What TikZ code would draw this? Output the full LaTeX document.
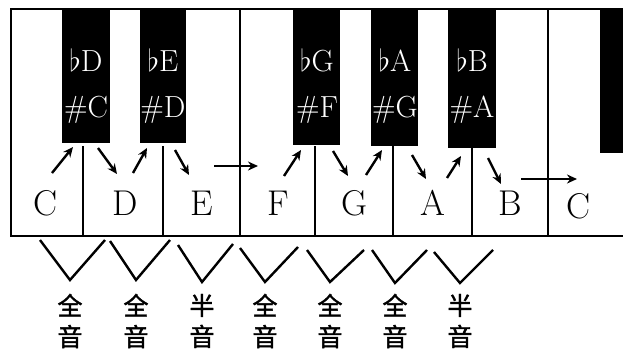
\documentclass[tikz,border=0pt]{standalone}
\usepackage{fontspec}
\newfontfamily\cjk{Noto Sans CJK SC}[FakeBold=1.5]
\usetikzlibrary{arrows.meta}
\begin{document}
\begin{tikzpicture}[x=1pt,y=-1pt,
  frame/.style={line width=2.4pt},
  divider/.style={line width=2.4pt},
  blackkey/.style={fill=black,draw=none,inner sep=0pt,anchor=north west},
  bklabel/.style={text=white,font=\fontsize{25}{26}\selectfont,scale=1.22},
  wlabel/.style={font=\fontsize{32}{34}\selectfont,scale=1.12},
  keyarrow/.style={line width=2.4pt,-{Stealth[length=10pt,width=9pt]}},
  vee/.style={line width=2.4pt},
  tone/.style={font=\cjk\fontsize{25}{31}\selectfont,align=center,inner sep=0pt}]
\useasboundingbox (0,0) rectangle (623,353);
% frame
\draw[frame] (623,9) -- (11,9) -- (11,236) -- (623,236);
% full dividers
\draw[divider] (240,9) -- (240,236);
\draw[divider] (548,9) -- (548,236);
% partial dividers
\foreach \x in {83,163,315,393,472} \draw[divider] (\x,146) -- (\x,236);
% black keys
\node[blackkey,minimum width=48pt,minimum height=134pt] (cs) at (62,9) {};
\node[blackkey,minimum width=46pt,minimum height=134pt] (ds) at (140,9) {};
\node[blackkey,minimum width=47pt,minimum height=136pt] (fs) at (293,9) {};
\node[blackkey,minimum width=47pt,minimum height=137pt] (gs) at (371,9) {};
\node[blackkey,minimum width=48pt,minimum height=139pt] (as) at (448,9) {};
\node[blackkey,minimum width=23pt,minimum height=144pt] (cs2) at (600,9) {};
% black key labels
\node[bklabel] (csf) at (86,60) {$\flat$D};
\node[bklabel] (css) at (86,110) {\#C};
\node[bklabel] (dsf) at (163,60) {$\flat$E};
\node[bklabel] (dss) at (163,110) {\#D};
\node[bklabel] (fsf) at (317,60) {$\flat$G};
\node[bklabel] (fss) at (317,110) {\#F};
\node[bklabel] (gsf) at (395,60) {$\flat$A};
\node[bklabel] (gss) at (395,110) {\#G};
\node[bklabel] (asf) at (472,60) {$\flat$B};
\node[bklabel] (ass) at (472,110) {\#A};
% white key labels
\node[wlabel] (c) at (45,203) {C};
\node[wlabel] (d) at (125,203) {D};
\node[wlabel] (e) at (202,203) {E};
\node[wlabel] (f) at (278,203) {F};
\node[wlabel] (g) at (355,203) {G};
\node[wlabel] (a) at (433,203) {A};
\node[wlabel] (b) at (510,203) {B};
\node[wlabel] (c2) at (578,206) {C};
% arrows
\coordinate (a1s) at (52,173); \coordinate (a1e) at (73,147);
\coordinate (a2s) at (98,148); \coordinate (a2e) at (117,174);
\coordinate (a3s) at (133,173); \coordinate (a3e) at (147,148);
\coordinate (a4s) at (175,150); \coordinate (a4e) at (189,175);
\coordinate (a5s) at (214,166); \coordinate (a5e) at (258,166);
\coordinate (a6s) at (284,176); \coordinate (a6e) at (301,150);
\coordinate (a7s) at (333,151); \coordinate (a7e) at (348,176);
\coordinate (a8s) at (366,175); \coordinate (a8e) at (382,150);
\coordinate (a9s) at (412,155); \coordinate (a9e) at (426,179);
\coordinate (a10s) at (447,178); \coordinate (a10e) at (461,156);
\coordinate (a11s) at (488,158); \coordinate (a11e) at (501,184);
\coordinate (a12s) at (521,179); \coordinate (a12e) at (577,179);
\foreach \i in {1,...,12} \draw[keyarrow] (a\i s) -- (a\i e);
% vees and tone labels
\foreach \l/\m/\r/\ly/\my/\ry/\t [count=\i] in {
  40/70/105/240/280/240/全,
  110/136/170/241/280/240/全,
  178/202/233/245/282/244/半,
  240/265/298/248/282/247/全,
  307/330/364/250/282/250/全,
  372/395/427/250/283/250/全,
  434/460/493/252/283/250/半} {
  \coordinate (vl\i) at (\l,\ly);
  \coordinate (vm\i) at (\m,\my);
  \coordinate (vr\i) at (\r,\ry);
  \draw[vee] (vl\i) -- (vm\i) -- (vr\i);
  \node[tone] (t\i) at (\m,321) {\t\\音};
}
\end{tikzpicture}
\end{document}
